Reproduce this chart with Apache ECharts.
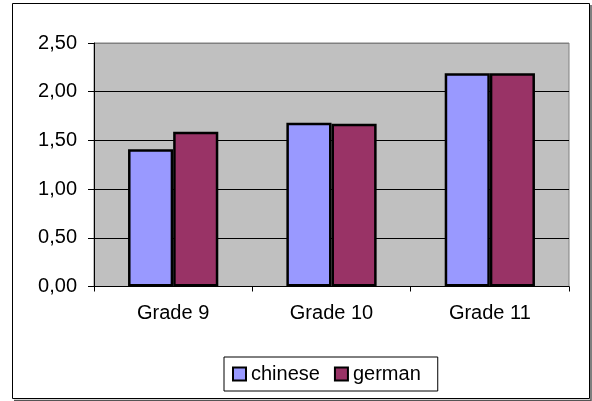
<!DOCTYPE html>
<html>
<head>
<meta charset="utf-8">
<script src="https://cdn.jsdelivr.net/npm/echarts@6/dist/echarts.min.js"></script>
<style>
  html, body { margin: 0; padding: 0; background: #fff; }
  #chart { width: 592px; height: 401px; }
</style>
</head>
<body>
<div id="chart"></div>
<script>
// Average scores per grade, by language
const categories = ['Grade 9', 'Grade 10', 'Grade 11'];
const chinese = [1.41, 1.68, 2.19];
const german = [1.59, 1.67, 2.19];
const seriesNames = ['chinese', 'german'];
const yMin = 0;
const yMax = 2.5;
const yStep = 0.5;

const FONT = "'Liberation Sans', Arial, sans-serif";

const chart = echarts.init(document.getElementById('chart'));
chart.setOption({
  animation: false,
  backgroundColor: '#ffffff',
  textStyle: { fontFamily: FONT },
  grid: {
    left: 94, right: 23, top: 43, bottom: 114.5,
    show: true,
    backgroundColor: '#C0C0C0',
    borderColor: '#808080',
    borderWidth: 1
  },
  legend: {
    data: seriesNames,
    left: 224, top: 357,
    orient: 'horizontal',
    padding: [7, 17, 7, 8],
    itemGap: 14,
    itemWidth: 13, itemHeight: 13,
    icon: 'rect',
    borderColor: '#000', borderWidth: 1,
    backgroundColor: '#fff',
    itemStyle: { borderColor: '#000', borderWidth: 2 },
    textStyle: { fontFamily: FONT, fontSize: 20, color: '#000', padding: [2, 0, 0, 0] }
  },
  xAxis: {
    type: 'category',
    data: categories,
    axisLine: { lineStyle: { color: '#000', width: 1 } },
    axisTick: { show: true, length: 5, lineStyle: { color: '#000' } },
    axisLabel: { color: '#000', fontSize: 20, fontFamily: FONT, margin: 17 }
  },
  yAxis: {
    type: 'value',
    min: yMin, max: yMax, interval: yStep,
    axisLine: { show: true, lineStyle: { color: '#000', width: 1 } },
    axisTick: { show: true, length: 6, lineStyle: { color: '#000' } },
    splitLine: { show: true, lineStyle: { color: ['#000', '#000', '#000', '#000', '#000', '#808080'], width: 1 } },
    axisLabel: {
      color: '#000', fontSize: 20, fontFamily: FONT, margin: 17,
      formatter: v => v.toFixed(2).replace('.', ',')
    }
  },
  series: [
    {
      name: seriesNames[0], type: 'bar', data: chinese,
      barGap: '0%', barCategoryGap: '43%',
      itemStyle: { color: '#9999FF', borderColor: '#000', borderWidth: 2.5 }
    },
    {
      name: seriesNames[1], type: 'bar', data: german,
      itemStyle: { color: '#993366', borderColor: '#000', borderWidth: 2.5 }
    }
  ],
  graphic: [
    {
      type: 'rect',
      shape: { x: 12.5, y: 3.5, width: 577, height: 395 },
      style: { fill: 'none', stroke: '#000', lineWidth: 1 },
      silent: true, z: 100
    },
    {
      type: 'polyline',
      shape: { points: [[591, 5], [591, 400.5], [14, 400.5]] },
      style: { fill: 'none', stroke: '#555', lineWidth: 1.5 },
      silent: true, z: 100
    }
  ]
});
</script>
</body>
</html>
